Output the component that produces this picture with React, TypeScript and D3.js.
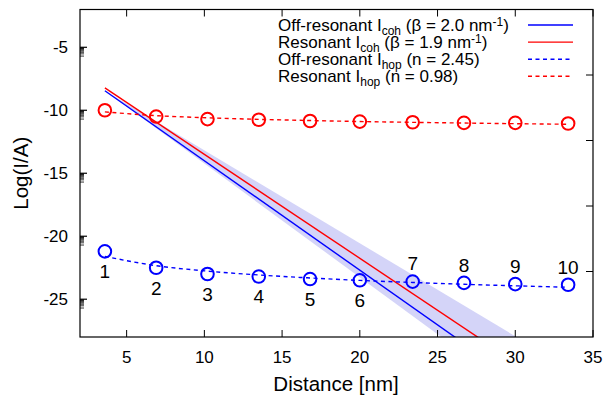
import * as d3 from 'd3';

// Hopping data (points 1..10)
const distance = [3.6, 6.9, 10.2, 13.5, 16.8, 20.0, 23.4, 26.7, 30.0, 33.4];
const pointLabels = ['1', '2', '3', '4', '5', '6', '7', '8', '9', '10'];
const resonantHop = [-10.0, -10.5, -10.7, -10.75, -10.85, -10.9, -10.95, -11.0, -11.0, -11.05];
const offResonantHop = [-21.2, -22.5, -23.0, -23.2, -23.4, -23.5, -23.6, -23.7, -23.8, -23.85];

// fit parameters: log I = a - n log10(N)
const hopExponent = [2.45, 0.98]; // off-resonant, resonant
const hopIntercept = [-21.6, -10.13];

// coherent tunnelling: log I = y0 - beta/ln10 * (d - d0)
const cohBeta = [2.0, 1.9]; // off-resonant, resonant
const cohStart = [-8.45, -8.22];
const cohBetaBand = [1.7, 2.08];

const xTicks = [5, 10, 15, 20, 25, 30, 35];
const yTicks = [-5, -10, -15, -20, -25];
const y2Ticks = [1, 2, 3, 4];

const BLUE = '#0000ff';
const RED = '#ff0000';
const FONT = '"Liberation Sans", Arial, Helvetica, sans-serif';

const W = 610;
const H = 399;
const plot = { left: 80, right: 593, top: 9.5, bottom: 337 };

export default function App() {
  const x = d3.scaleLinear().domain([2, 35]).range([plot.left, plot.right]);
  const y = d3.scaleLinear().domain([-28, -2]).range([plot.bottom, plot.top]);
  const y2 = d3.scaleLinear().domain([0, 5]).range([plot.bottom, plot.top]);

  const d0 = distance[0];
  const dEnd = 35;
  const cohAt = (i: number, beta: number, d: number) => cohStart[i] - (beta / Math.LN10) * (d - d0);

  const line = d3.line<[number, number]>().x(p => x(p[0])).y(p => y(p[1]));
  const curve = d3.line<[number, number]>().x(p => x(p[0])).y(p => y(p[1])).curve(d3.curveMonotoneX);

  const cohLines = cohBeta.map((b, i) => line([[d0, cohStart[i]], [dEnd, cohAt(i, b, dEnd)]]) as string);
  const bandPts: [number, number][] = [
    [d0, cohStart[0]],
    [dEnd, cohAt(0, cohBetaBand[0], dEnd)],
    [dEnd, cohAt(0, cohBetaBand[1], dEnd)],
  ];
  const band = (line(bandPts) as string) + 'Z';

  const hopFit = hopExponent.map((n, k) =>
    curve(distance.map((d, i) => [d, hopIntercept[k] - n * Math.log10(i + 1)] as [number, number])) as string
  );

  // log-style minor ticks below each major tick
  const minorTicks: number[] = [];
  yTicks.forEach(m => {
    for (let k = 2; k <= 9; k++) minorTicks.push(m - 1 + Math.log10(k));
  });

  const legend = [
    { main: 'Off-resonant I', sub: 'coh', rest: ' (β = 2.0 nm', sup: '-1', tail: ')', color: BLUE, dash: '' },
    { main: 'Resonant I', sub: 'coh', rest: ' (β = 1.9 nm', sup: '-1', tail: ')', color: RED, dash: '' },
    { main: 'Off-resonant I', sub: 'hop', rest: ' (n = 2.45)', sup: '', tail: '', color: BLUE, dash: '4,3.5' },
    { main: 'Resonant I', sub: 'hop', rest: ' (n = 0.98)', sup: '', tail: '', color: RED, dash: '4,3.5' },
  ];

  return (
    <svg width={W} height={H} style={{ position: 'absolute', left: 0, top: 0, background: '#fff' }} fontFamily={FONT}>
      <defs>
        <clipPath id="plotClip">
          <rect x={plot.left} y={plot.top} width={plot.right - plot.left} height={plot.bottom - plot.top} />
        </clipPath>
      </defs>

      <g clipPath="url(#plotClip)">
        <path d={band} fill="#d4d4f8" stroke="none" />
        <path d={cohLines[0]} fill="none" stroke={BLUE} strokeWidth={1.4} />
        <path d={cohLines[1]} fill="none" stroke={RED} strokeWidth={1.4} />
        <path d={hopFit[0]} fill="none" stroke={BLUE} strokeWidth={1.4} strokeDasharray="4,3.5" />
        <path d={hopFit[1]} fill="none" stroke={RED} strokeWidth={1.4} strokeDasharray="4,3.5" />
        {distance.map((d, i) => (
          <circle key={'r' + i} cx={x(d)} cy={y(resonantHop[i])} r={6.3} fill="none" stroke={RED} strokeWidth={2} />
        ))}
        {distance.map((d, i) => (
          <circle key={'b' + i} cx={x(d)} cy={y(offResonantHop[i])} r={6.3} fill="none" stroke={BLUE} strokeWidth={2} />
        ))}
      </g>

      {/* point numbers */}
      {distance.map((d, i) => (
        <text key={'l' + i} x={x(d)} y={y(offResonantHop[i]) + (i < 6 ? 20 : -18)} dy="0.36em"
          textAnchor="middle" fontSize={19} fill="#000">{pointLabels[i]}</text>
      ))}

      {/* frame */}
      <rect x={plot.left} y={plot.top} width={plot.right - plot.left} height={plot.bottom - plot.top}
        fill="none" stroke="#000" strokeWidth={1.2} />

      {/* x ticks bottom + top */}
      {xTicks.map(t => (
        <g key={'x' + t}>
          <line x1={x(t)} x2={x(t)} y1={plot.bottom} y2={plot.bottom - 7} stroke="#000" />
          <line x1={x(t)} x2={x(t)} y1={plot.top} y2={plot.top + 7} stroke="#000" />
          <text x={x(t)} y={357} dy="0.36em" textAnchor="middle" fontSize={17}>{t}</text>
        </g>
      ))}

      {/* y ticks */}
      {yTicks.map(t => (
        <g key={'y' + t}>
          <line x1={plot.left} x2={plot.left + 7} y1={y(t)} y2={y(t)} stroke="#000" strokeWidth={1.2} />
          <text x={68} y={y(t)} dy="0.36em" textAnchor="end" fontSize={17}>{t}</text>
        </g>
      ))}
      {minorTicks.map((t, i) => (
        <line key={'m' + i} x1={plot.left} x2={plot.left + 4} y1={y(t)} y2={y(t)} stroke="#000" strokeWidth={0.8} />
      ))}
      {y2Ticks.map(t => (
        <line key={'y2' + t} x1={plot.right} x2={plot.right - 7} y1={y2(t)} y2={y2(t)} stroke="#000" />
      ))}

      {/* axis titles */}
      <text x={336} y={391} textAnchor="middle" fontSize={20.5}>Distance [nm]</text>
      <text transform={`translate(28,${(plot.top + plot.bottom) / 2}) rotate(-90)`} textAnchor="middle" fontSize={20.5}>Log(I/A)</text>

      {/* legend */}
      {legend.map((e, i) => {
        const ly = 25 + i * 17.1;
        return (
          <g key={'lg' + i}>
            <text x={278} y={ly + 6} fontSize={17}>
              {e.main}
              <tspan fontSize={12} dy={3.5}>{e.sub}</tspan>
              <tspan dy={-3.5}>{e.rest}</tspan>
              {e.sup && <tspan fontSize={12} dy={-5.5}>{e.sup}</tspan>}
              {e.tail && <tspan dy={5.5}>{e.tail}</tspan>}
            </text>
            <line x1={528} x2={573} y1={ly} y2={ly} stroke={e.color} strokeWidth={1.4} strokeDasharray={e.dash || undefined} />
          </g>
        );
      })}
    </svg>
  );
}
